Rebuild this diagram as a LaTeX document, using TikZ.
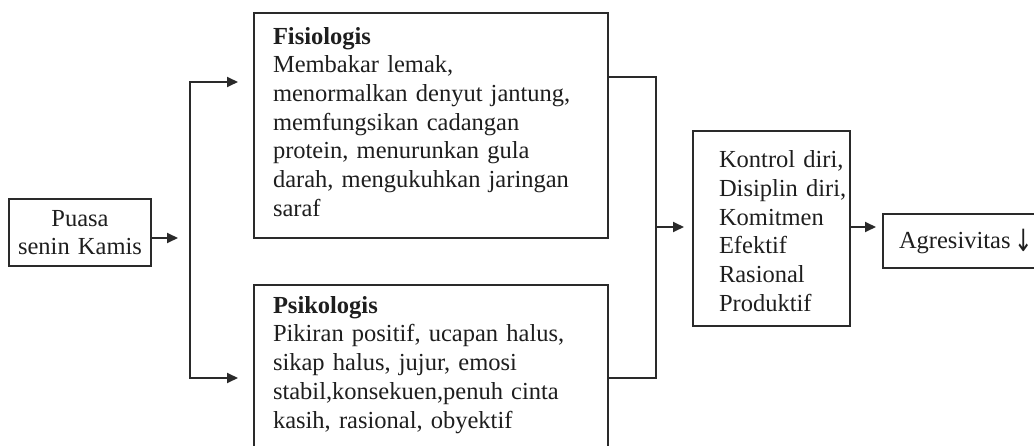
\documentclass[tikz,border=0pt]{standalone}
\usepackage{fontspec}
\setmainfont{Liberation Serif}
\newfontfamily\arrowfont{DejaVu Sans}
\usetikzlibrary{arrows.meta,calc}
\definecolor{ink}{HTML}{2A2A2A}
\definecolor{txt}{HTML}{1E1E1E}
\begin{document}
\begin{tikzpicture}[x=1pt,y=-1pt,
  every node/.style={font=\fontsize{24.5}{28.7}\selectfont, text=txt},
  box/.style={draw=ink, line width=2pt, rectangle, inner sep=0pt, anchor=north west, align=left},
  conn/.style={draw=ink, line width=1.8pt, line cap=rect},
  arr/.style={conn, -{Triangle[length=11pt,width=10pt]}}]
\useasboundingbox (0,0) rectangle (1034,446);

\node[box, align=center, text width=142pt, minimum height=67pt] (puasa) at (8,198)
  {Puasa\\senin Kamis};

\node[box, text width=354pt, minimum height=225pt] (fis) at (253,12)
  {\leftskip=19pt\textbf{Fisiologis}\\
   Membakar lemak,\\
   menormalkan denyut jantung,\\
   memfungsikan cadangan\\
   protein, menurunkan gula\\
   darah, mengukuhkan jaringan\\
   saraf\rule[-7.7pt]{0pt}{0pt}\par};

\node[box, text width=354pt, minimum height=186pt] (psi) at (253,284)
  {\leftskip=19pt\textbf{Psikologis}\\
   Pikiran positif, ucapan halus,\\
   sikap halus, jujur, emosi\\
   stabil,konsekuen,penuh cinta\\
   kasih, rasional, obyektif\rule[-31.7pt]{0pt}{0pt}\par};

\node[box, text width=157pt, minimum height=195pt] (mid) at (692,130)
  {\leftskip=26pt\rule{0pt}{22pt}Kontrol diri,\\
   Disiplin diri,\\
   Komitmen\\
   Efektif\\
   Rasional\\
   Produktif\par};

\node[box, text width=160pt, minimum height=54pt] (agr) at (882,213)
  {\leftskip=16pt Agresivitas\hspace{4pt}\raisebox{-3pt}{\scalebox{0.9}[1.25]{\arrowfont ↓}}\par};

\coordinate (pin) at (178,238);
\coordinate (bl1) at (190,82);
\coordinate (bl2) at (190,378);
\coordinate (br1) at (656,77);
\coordinate (br2) at (656,378);
\coordinate (brm) at (656,227);

\draw[arr] (puasa.east |- pin) -- (pin);
\draw[conn] (bl1) -- (bl2);
\draw[arr, shorten >=15pt] (bl1) -- (bl1 -| fis.west);
\draw[arr, shorten >=15pt] (bl2) -- (bl2 -| psi.west);
\draw[conn] (fis.east |- br1) -- (br1) -- (br2) -- (psi.east |- br2);
\draw[arr, shorten >=8pt] (brm) -- (brm -| mid.west);
\draw[arr, shorten >=6pt] (mid.east |- brm) -- (brm -| agr.west);
\end{tikzpicture}
\end{document}
